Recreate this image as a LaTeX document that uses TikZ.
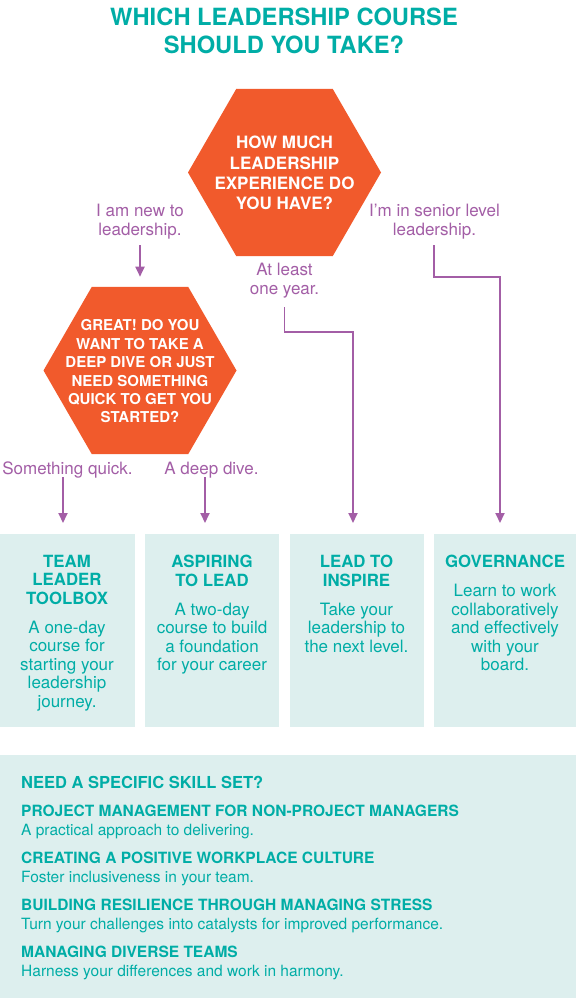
\documentclass[tikz,border=0pt]{standalone}
\usepackage{fontspec}
\setmainfont{TeX Gyre Heros}
\usetikzlibrary{shapes.geometric,arrows.meta}
\definecolor{tealt}{HTML}{00ADA6}
\definecolor{tealbox}{HTML}{DDEFEE}
\definecolor{orng}{HTML}{F15A2C}
\definecolor{purp}{HTML}{A35EA6}
\newcommand\cbt{\fontsize{16.8}{18.5}\selectfont\bfseries}
\newcommand\cbb{\fontsize{17}{18.5}\selectfont\mdseries}
\newcommand\skh{\fontsize{16.5}{18.5}\selectfont\bfseries}
\newcommand\skt{\fontsize{15.5}{18.5}\selectfont\bfseries}
\newcommand\skd{\fontsize{15.5}{18.5}\selectfont\mdseries}
\begin{document}
\begin{tikzpicture}[x=1pt,y=-1pt,
 hex/.style={regular polygon, regular polygon sides=6, minimum size=193pt, inner sep=0pt, fill=orng, draw=none},
 hextext/.style={text=white, align=center, inner sep=0pt, anchor=north},
 lbl/.style={text=purp, align=center, inner sep=0pt, anchor=north, font=\fontsize{17}{19}\selectfont},
 arr/.style={draw=purp, line width=1.8pt, -{Triangle[width=9pt,length=10pt]}},
 cbox/.style={fill=tealbox, draw=none, inner sep=0pt, anchor=north west, minimum height=193pt},
 cboxtext/.style={text=tealt, align=center, inner sep=0pt, anchor=north, font=\fontsize{17}{18.5}\selectfont},
]
\fill[white] (0,0) rectangle (576,998);
\useasboundingbox (0,0) rectangle (576,998);

% title
\node[anchor=north, align=center, inner sep=0pt, text=tealt, font=\fontsize{23.7}{28}\selectfont\bfseries] (title) at (284,8) {WHICH LEADERSHIP COURSE\\SHOULD YOU TAKE?};

% hexagons
\node[hex] (h1) at (284.5,172.5) {};
\node[hextext, font=\fontsize{17}{20.3}\selectfont\bfseries] (h1t) at (284.5,136) {HOW MUCH\\LEADERSHIP\\EXPERIENCE DO\\YOU HAVE?};
\node[hex] (h2) at (140,370.5) {};
\node[hextext, font=\fontsize{15}{18.4}\selectfont\bfseries] (h2t) at (140,319.6) {GREAT! DO YOU\\WANT TO TAKE A\\DEEP DIVE OR JUST\\NEED SOMETHING\\QUICK TO GET YOU\\STARTED?};

% labels
\node[lbl] (l1) at (140,204) {I am new to\\leadership.};
\node[lbl] (l2) at (434.5,204) {I’m in senior level\\leadership.};
\node[lbl] (l3) at (284.5,263) {At least\\one year.};
\node[lbl] (l4) at (67.5,462) {Something quick.};
\node[lbl] (l5) at (211.5,462) {A deep dive.};

% course boxes
\node[cbox, minimum width=134.5pt] (b1) at (0,534) {};
\node[cbox, minimum width=134pt] (b2) at (145,534) {};
\node[cbox, minimum width=134pt] (b3) at (289.5,534) {};
\node[cbox, minimum width=142pt] (b4) at (434,534) {};

\node[cboxtext] (t1) at (67,555) {\cbt TEAM\\\cbt LEADER\\\cbt TOOLBOX\\[10.5pt]\cbb A one-day\\\cbb course for\\\cbb starting your\\\cbb leadership\\\cbb journey.};
\node[cboxtext] (t2) at (212,555) {\cbt ASPIRING\\\cbt TO LEAD\\[10.5pt]\cbb A two-day\\\cbb course to build\\\cbb a foundation\\\cbb for your career};
\node[cboxtext] (t3) at (356.5,555) {\cbt LEAD TO\\\cbt INSPIRE\\[10.5pt]\cbb Take your\\\cbb leadership to\\\cbb the next level.};
\node[cboxtext] (t4) at (505,555) {\cbt GOVERNANCE\\[10.5pt]\cbb Learn to work\\\cbb collaboratively\\\cbb and effectively\\\cbb with your\\\cbb board.};

% skills box
\node[anchor=north west, fill=tealbox, draw=none, inner sep=0pt, minimum width=576pt, minimum height=243pt] (skbox) at (0,755) {};
\node[anchor=north west, align=left, inner sep=0pt, text=tealt, font=\fontsize{15.5}{18.5}\selectfont] (sk) at (21,776) {\skh NEED A SPECIFIC SKILL SET?\\[10pt]\skt PROJECT MANAGEMENT FOR NON-PROJECT MANAGERS\\\skd A practical approach to delivering.\\[10pt]\skt CREATING A POSITIVE WORKPLACE CULTURE\\\skd Foster inclusiveness in your team.\\[10pt]\skt BUILDING RESILIENCE THROUGH MANAGING STRESS\\\skd Turn your challenges into catalysts for improved performance.\\[10pt]\skt MANAGING DIVERSE TEAMS\\\skd Harness your differences and work in harmony.};

% connectors
\coordinate (s1) at (140,245);
\draw[arr, shorten >=10pt] (s1) -- (h2.north);
\coordinate (s2) at (434,245);
\coordinate (k2) at (500,277);
\draw[arr, shorten >=11pt] (s2) |- (k2) -- (k2 |- b4.north);
\coordinate (s3) at (284.5,307);
\coordinate (k3) at (353,332);
\draw[arr, shorten >=11pt] (s3) |- (k3) -- (k3 |- b3.north);
\coordinate (s4) at (63,477);
\draw[arr, shorten >=11pt] (s4) -- (s4 |- b1.north);
\coordinate (s5) at (205,477);
\draw[arr, shorten >=11pt] (s5) -- (s5 |- b2.north);
\end{tikzpicture}
\end{document}
